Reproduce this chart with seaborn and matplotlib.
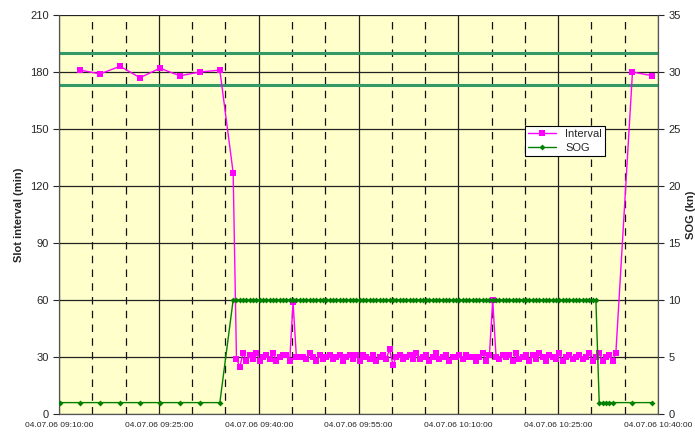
import pandas as pd
import matplotlib
matplotlib.use('Agg')
import matplotlib.pyplot as plt
import matplotlib.dates as mdates
import seaborn as sns

sns.set_style('white')
plt.rcParams['font.family'] = ['Liberation Sans', 'DejaVu Sans']

# Slot interval (min): every 3 min before the manoeuvre
early_times = pd.date_range('2006-07-04 09:13:10', periods=8, freq='3min')
early_interval = [181, 179, 183, 177, 182, 178, 180, 181]

# dense reports every 30 s
dense_times = pd.date_range('2006-07-04 09:36:10', periods=116, freq='30s')
dense_interval = [127,
                  29, 25, 32, 28, 31, 29, 32, 28, 30, 31, 29, 32, 28, 30, 31, 31, 28, 59, 30, 30,
                  30, 29, 32, 30, 28, 31, 29, 30, 31, 29, 30, 31, 28, 30, 31, 29, 31, 28, 31, 30,
                  29, 31, 28, 30, 31, 29, 34, 26, 30, 31, 29, 30, 31, 29, 32, 29, 30, 31, 28, 30,
                  32, 29, 30, 31, 28, 30, 30, 31, 29, 31, 30, 30, 28, 30, 32, 28, 31, 60, 30, 29,
                  31, 30, 31, 28, 32, 29, 30, 31, 28, 31, 29, 32, 30, 28, 31, 30, 29, 32, 28, 30,
                  31, 29, 30, 31, 29, 30, 32, 28, 30, 32, 28, 30, 31, 28, 32]

late_times = pd.to_datetime(['2006-07-04 10:36:10', '2006-07-04 10:39:10'])
late_interval = [180, 178]

# SOG (kn)
sog_early_times = pd.date_range('2006-07-04 09:10:10', periods=9, freq='3min')
sog_early = [1, 1, 1, 1, 1, 1, 1, 1, 1]
sog_dense_times = pd.date_range('2006-07-04 09:36:10', periods=115, freq='30s')
sog_dense = [10] * 110 + [1] * 5
sog_late = [1, 1]

# limit lines on the interval axis
limits = [190, 173]

interval_df = pd.DataFrame({
    'time': list(early_times) + list(dense_times) + list(late_times),
    'interval': early_interval + dense_interval + late_interval,
})
sog_df = pd.DataFrame({
    'time': list(sog_early_times) + list(sog_dense_times) + list(late_times),
    'sog': sog_early + sog_dense + sog_late,
})

fig = plt.figure(figsize=(6.95, 4.34), dpi=100)
ax = fig.add_axes([59 / 695, 20 / 434, 599 / 695, 399 / 434])
ax.set_facecolor('#FFFFCC')
ax2 = ax.twinx()

# grid: solid every 15 min, dashed every 5 min
ax.xaxis.set_major_locator(mdates.MinuteLocator(byminute=[10, 25, 40, 55]))
ax.xaxis.set_minor_locator(mdates.MinuteLocator(byminute=[0, 5, 15, 20, 30, 35, 45, 50]))
ax.xaxis.set_major_formatter(mdates.DateFormatter('%d.%m.%y %H:%M:%S'))
ax.grid(True, which='major', axis='both', color='#222222', linewidth=0.9)
ax.grid(True, which='minor', axis='x', color='#111111', linewidth=0.9, linestyle=(0, (6, 5)))
ax.set_axisbelow(True)

for y in limits:
    ax.axhline(y, color='#339966', linewidth=2.2, zorder=2)

sns.lineplot(data=interval_df, x='time', y='interval', ax=ax, color='#FF00FF',
             marker='s', markersize=5, markeredgewidth=0, linewidth=1,
             estimator=None, sort=False, zorder=4, label='Interval')
sns.lineplot(data=sog_df, x='time', y='sog', ax=ax2, color='#008000',
             marker='D', markersize=3, markeredgewidth=0, linewidth=1,
             estimator=None, sort=False, zorder=3, label='SOG')

ax.set_xlim(pd.Timestamp('2006-07-04 09:10:00'), pd.Timestamp('2006-07-04 10:40:00'))
ax.set_ylim(0, 210)
ax.set_yticks(range(0, 211, 30))
ax2.set_ylim(0, 35)
ax2.set_yticks(range(0, 36, 5))

ax.set_xlabel('')
ax.set_ylabel('Slot interval (min)', fontsize=8, fontweight='bold')
ax2.set_ylabel('SOG (kn)', fontsize=8, fontweight='bold')
ax.tick_params(axis='x', which='major', labelsize=6, length=4, direction='out', pad=2)
ax.tick_params(axis='x', which='minor', length=0)
ax.tick_params(axis='y', labelsize=8, length=4, direction='out', left=True)
ax2.tick_params(axis='y', labelsize=8, length=4, direction='out', right=True)

for a in (ax, ax2):
    for s in a.spines.values():
        s.set_color('#555555')
        s.set_linewidth(0.8)
ax.spines['top'].set_visible(False)
ax2.spines['top'].set_visible(False)

# merge legends
h1, l1 = ax.get_legend_handles_labels()
h2, l2 = ax2.get_legend_handles_labels()
if ax.get_legend():
    ax.get_legend().remove()
if ax2.get_legend():
    ax2.get_legend().remove()
leg = ax2.legend(h1 + h2, l1 + l2, loc='upper left', bbox_to_anchor=(0.778, 0.722),
                 fontsize=8, frameon=True, fancybox=False, edgecolor='black',
                 borderpad=0.3, handlelength=2.5, labelspacing=0.3, borderaxespad=0)
leg.get_frame().set_linewidth(0.8)
leg.get_frame().set_alpha(1)

fig.savefig('out.png', dpi=100, facecolor='white')
